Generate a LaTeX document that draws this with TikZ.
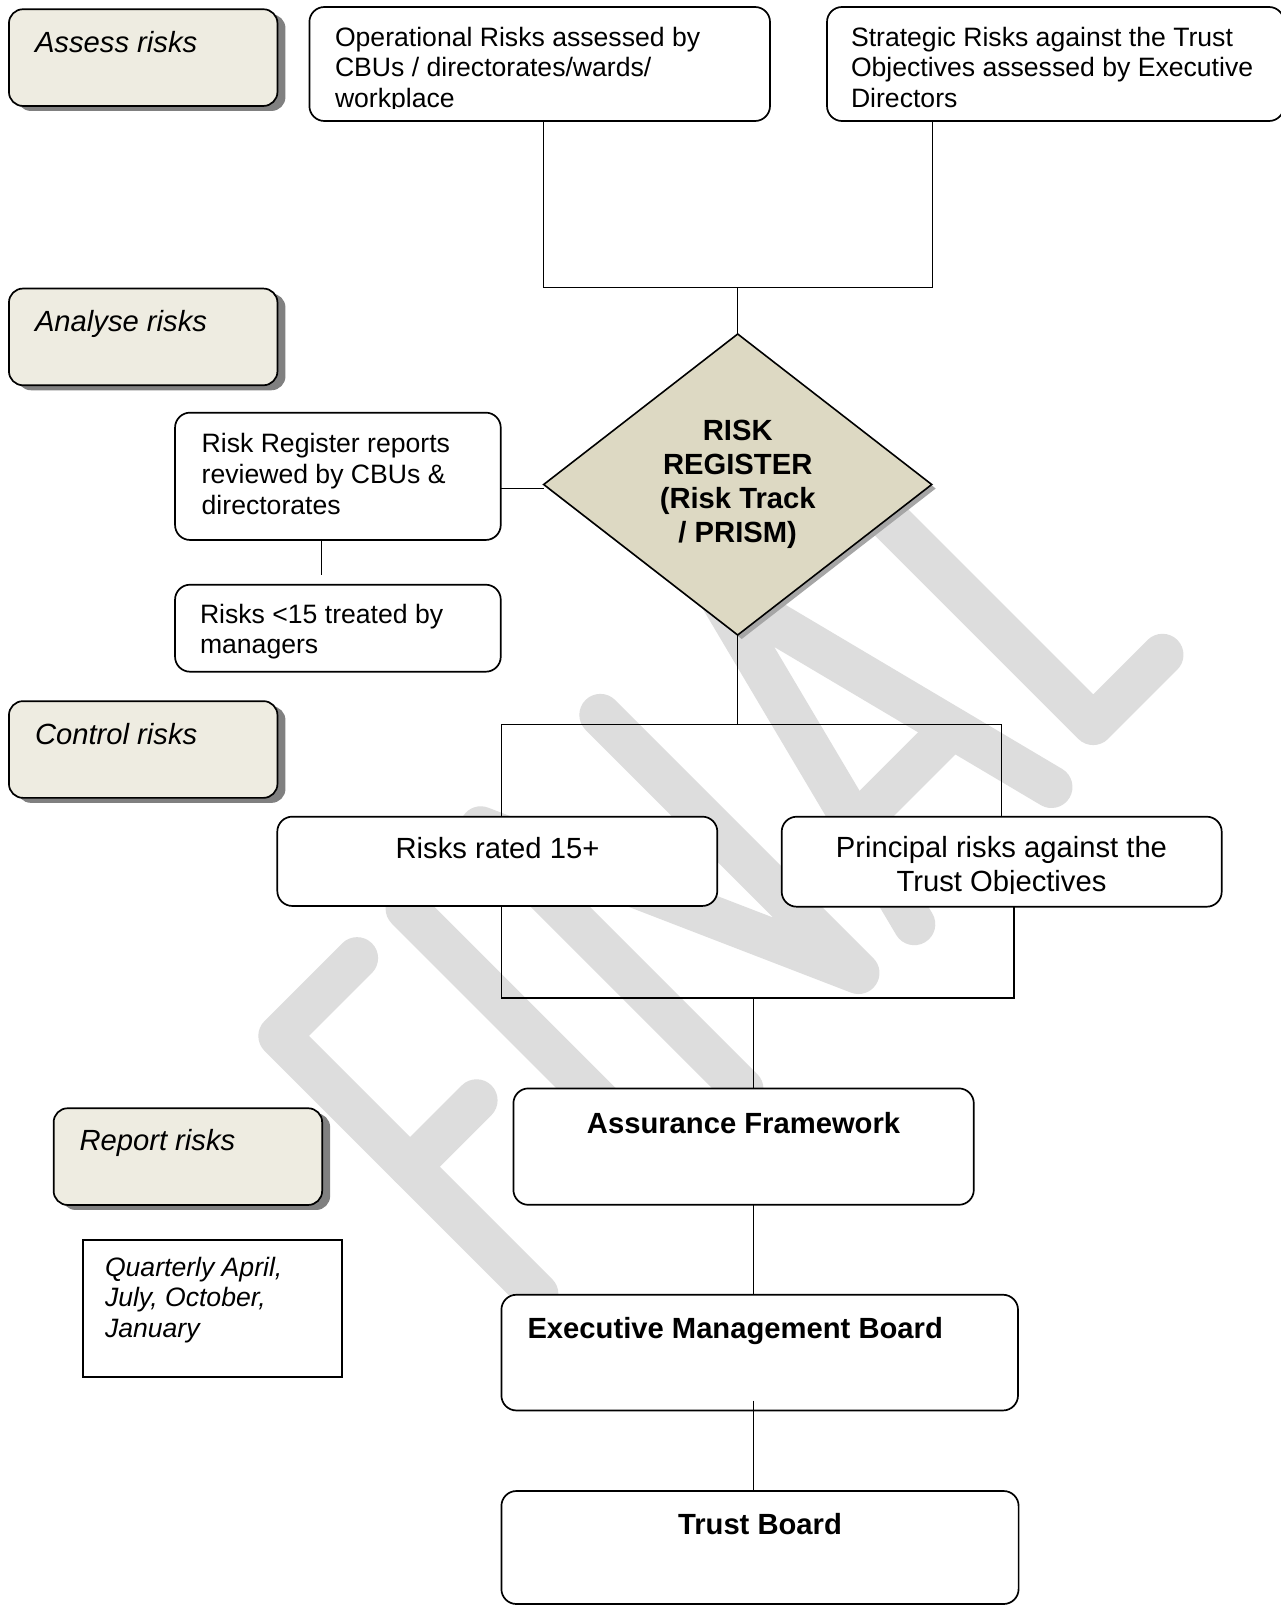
\documentclass[tikz,border=0pt]{standalone}
\usepackage{fontspec}
\setmainfont{Liberation Sans}
\usetikzlibrary{shapes.geometric,shadows}
\definecolor{labfill}{HTML}{EEECE1}
\definecolor{diafill}{HTML}{DDD9C3}
\definecolor{shadowgray}{HTML}{808080}
\definecolor{diashadow}{HTML}{A6A6A6}
\definecolor{wmgray}{HTML}{DDDDDD}
\newcommand\clines[1]{\vtop{\halign{\hfil##\hfil\cr#1\crcr}}}
\newcommand\llines[1]{\vtop{\halign{##\hfil\cr#1\crcr}}}
\newcommand\myreg{\fontsize{13.3}{15.1}\selectfont}
\newcommand\mybig{\fontsize{14.6}{17.1}\selectfont}
\begin{document}
\begin{tikzpicture}[x=0.5pt,y=-0.5pt,
  lab/.style={draw=black, line width=0.85pt, fill=labfill, rounded corners=7pt,
    minimum width=134.25pt, minimum height=48.35pt, inner sep=0pt, outer sep=0pt,
    drop shadow={shadow xshift=4pt, shadow yshift=-2.5pt, fill=shadowgray, opacity=1}},
  rbox/.style={draw=black, line width=0.85pt, fill=white, rounded corners=7.5pt, inner sep=0pt, outer sep=0pt},
  sbox/.style={draw=black, line width=0.85pt, fill=white, inner sep=0pt, outer sep=0pt},
  dia/.style={diamond, draw=black, line width=0.8pt, fill=diafill, minimum width=194pt, minimum height=150.5pt,
    inner sep=0pt, outer sep=0pt, font=\mybig\bfseries,
    drop shadow={shadow xshift=2pt, shadow yshift=-2pt, fill=diashadow, opacity=1}},
  conn/.style={draw=black, line width=0.75pt},
  txt/.style={inner sep=0pt, outer sep=0pt, anchor=base west},
  wm/.style={draw=wmgray, line width=21pt, line cap=round, line join=round}]
\useasboundingbox (0,0) rectangle (1280,1606);
\fill[white] (0,0) rectangle (1280,1606);

% watermark FINAL (rotated 45 degrees)
\begin{scope}[rotate=45]
  \draw[wm] (-425,930) -- (-535,930) -- (-535,1295);
  \draw[wm] (-535,1115) -- (-441,1115);
  \draw[wm] (-355,930) -- (-355,1295);
  \draw[wm] (-245,1295) -- (-245,925) -- (-81,1295) -- (-81,930);
  \draw[wm] (-7,1300) -- (90,920) -- (187,1300);
  \draw[wm] (22,1188) -- (158,1188);
  \draw[wm] (261,915) -- (261,1285) -- (359,1285);
\end{scope}

% stage labels
\node[lab] (assess) at (143.2,57.6) {};
\node[lab] (analyse) at (143.2,336.9) {};
\node[lab] (control) at (143.2,749.5) {};
\node[lab] (report) at (187.9,1156.6) {};

% boxes
\node[rbox, minimum width=230.3pt, minimum height=57pt] (op) at (539.7,64) {};
\node[rbox, minimum width=228.5pt, minimum height=57pt] (strat) at (1055.5,64) {};
\node[rbox, minimum width=162.85pt, minimum height=63.65pt] (rr) at (337.9,476.3) {};
\node[rbox, minimum width=162.85pt, minimum height=43.5pt] (r15) at (337.9,628.2) {};
\node[rbox, minimum width=220pt, minimum height=44.65pt] (rated) at (497.3,861.3) {};
\node[rbox, minimum width=220pt, minimum height=45pt] (princ) at (1001.7,861.7) {};
\node[rbox, minimum width=230.2pt, minimum height=58.2pt] (af) at (743.6,1146.6) {};
\node[rbox, minimum width=258.3pt, minimum height=57.85pt] (emb) at (759.7,1352.6) {};
\node[rbox, minimum width=258.6pt, minimum height=56.5pt] (tb) at (760,1547.5) {};
\node[sbox, minimum width=129.5pt, minimum height=68.35pt] (qtr) at (212.2,1308.3) {};
\node[dia] (dia) at (737.7,484.5) {\clines{RISK\cr REGISTER\cr (Risk Track\cr / PRISM)}};

% connectors
\coordinate (j1) at (543.5,287.7);
\coordinate (j2) at (932.5,287.7);
\draw[conn] (op.south -| j1) -- (j1) -- (j2) -- (strat.south -| j2);
\draw[conn] (dia.north |- j1) -- (dia.north);
\coordinate (k) at (544,488.3);
\draw[conn] (rr.east |- k) -- (k);
\coordinate (m) at (321.7,575);
\draw[conn] (rr.south -| m) -- (m);
\coordinate (t1) at (501.6,724.3);
\coordinate (t2) at (1001.3,724.3);
\draw[conn] (dia.south) -- (dia.south |- t1);
\draw[conn] (rated.north -| t1) -- (t1) -- (t2) -- (princ.north -| t2);
\coordinate (b1) at (501.5,998);
\coordinate (b2) at (1014,998);
\coordinate (b3) at (753.7,998);
\draw[conn] (rated.south -| b1) -- (b1) -- (b2) -- (princ.south -| b2);
\draw[conn] (b3) -- (af.north -| b3);
\draw[conn] (af.south -| b3) -- (emb.north -| b3);
\coordinate (e1) at (753.7,1400.5);
\draw[conn] (e1) -- (tb.north -| e1);

% texts
\node[txt, font=\mybig\itshape] (assessT) at (35,52.6) {Assess risks};
\node[txt, font=\mybig\itshape] (analyseT) at (35,331) {Analyse risks};
\node[txt, font=\mybig\itshape] (controlT) at (35,744.8) {Control risks};
\node[txt, font=\mybig\itshape] (reportT) at (79.5,1150) {Report risks};
\begin{scope}
  \clip (300,0) rectangle (780,108.5);
  \node[txt, font=\myreg] (opT) at (335,46.7) {\llines{Operational Risks assessed by\cr CBUs / directorates/wards/\cr workplace}};
\end{scope}
\node[txt, font=\myreg] (stratT) at (851,46.7) {\llines{Strategic Risks against the Trust\cr Objectives assessed by Executive\cr Directors}};
\node[txt, font=\fontsize{13.3}{15.5}\selectfont] (rrT) at (201.7,452.2) {\llines{Risk Register reports\cr reviewed by CBUs \&\cr directorates}};
\node[txt, font=\fontsize{13.3}{15.35}\selectfont] (r15T) at (200,623.2) {\llines{Risks <15 treated by\cr managers}};
\node[txt, anchor=base, font=\fontsize{14.6}{16.9}\selectfont] (ratedT) at (497.5,858.5) {Risks rated 15+};
\begin{scope}
  \clip (780,800) rectangle (1225,893);
  \node[txt, anchor=base, font=\fontsize{14.6}{16.9}\selectfont] (princT) at (1001.5,857.5) {\clines{Principal risks against the\cr Trust Objectives}};
\end{scope}
\node[txt, anchor=base, font=\mybig\bfseries] (afT) at (743.6,1133) {Assurance Framework};
\node[txt, font=\mybig\bfseries] (embT) at (527.5,1338.5) {Executive Management Board};
\node[txt, anchor=base, font=\mybig\bfseries] (tbT) at (760,1534.3) {Trust Board};
\node[txt, font=\fontsize{13.3}{15.35}\selectfont\itshape] (qtrT) at (105,1276) {\llines{Quarterly April,\cr July, October,\cr January}};
\end{tikzpicture}
\end{document}
